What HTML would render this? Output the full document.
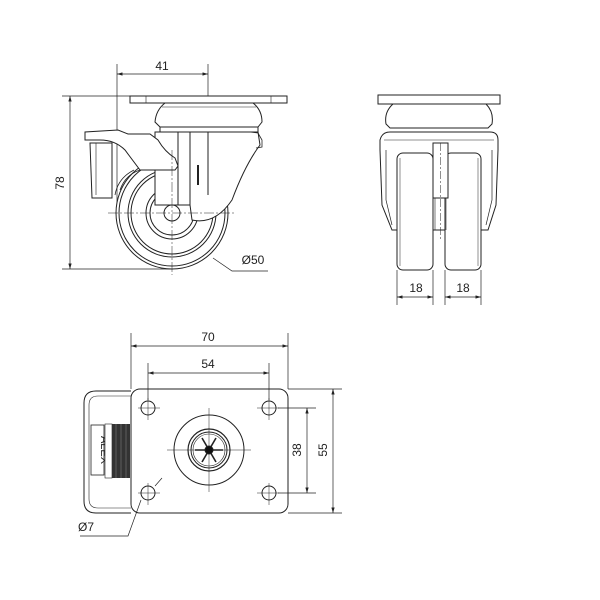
<!DOCTYPE html>
<html><head><style>html,body{margin:0;padding:0;background:#fff}svg{display:block}</style></head>
<body>
<svg width="600" height="600" viewBox="0 0 600 600" xmlns="http://www.w3.org/2000/svg" font-family="Liberation Sans, sans-serif" font-size="12" fill="none" stroke="#222" stroke-width="1">
<defs>
<marker id="a" viewBox="0 0 10 6" refX="10" refY="3" markerWidth="8" markerHeight="5" orient="auto-start-reverse"><path d="M0,0L10,3L0,6z" fill="#222" stroke="none"/></marker>
</defs>
<!-- ===== SIDE VIEW ===== -->
<g stroke-width="0.7">
<line x1="117" y1="64" x2="117" y2="210"/>
<line x1="208" y1="64" x2="208" y2="110"/>
<line x1="117" y1="74" x2="208" y2="74" marker-start="url(#a)" marker-end="url(#a)"/>
<line x1="62" y1="96" x2="130" y2="96"/>
<line x1="62" y1="269" x2="172" y2="269"/>
<line x1="70" y1="96" x2="70" y2="269" marker-start="url(#a)" marker-end="url(#a)"/>
<polyline points="213,258 232,271 268,271"/>
</g>
<text x="162" y="70" fill="#222" stroke="none" text-anchor="middle">41</text>
<text x="0" y="0" fill="#222" stroke="none" text-anchor="middle" transform="translate(64,183) rotate(-90)">78</text>
<text x="253" y="264" fill="#222" stroke="none" text-anchor="middle">Ø50</text>
<!-- plate -->
<rect x="130" y="96" width="157" height="7" fill="#fff"/>
<line x1="146" y1="96" x2="146" y2="103" stroke-width="0.6"/>
<line x1="271" y1="96" x2="271" y2="103" stroke-width="0.6"/>
<path d="M165,103 L253,103 Q262,110 262,122 L258,127 L160,127 L155,122 Q156,110 165,103Z" fill="#fff"/>
<line x1="162" y1="107" x2="256" y2="107" stroke-width="0.6"/>
<rect x="160" y="127" width="98" height="5" fill="#fff"/>
<!-- wheel -->
<circle cx="172" cy="213" r="56" fill="#fff"/>
<circle cx="172" cy="213" r="53"/>
<circle cx="172" cy="213" r="44"/>
<circle cx="172" cy="213" r="41"/>
<circle cx="172" cy="213" r="26"/>
<circle cx="172" cy="213" r="22"/>
<!-- fork -->
<path d="M155,132 L258,132 L260,145 Q245,165 232,200 Q215,225 192,220 L190,205 L155,205Z" fill="#fff"/>
<line x1="178" y1="132" x2="178" y2="205"/>
<line x1="190" y1="132" x2="190" y2="205"/>
<line x1="208" y1="132" x2="208" y2="195"/>
<path d="M250,132 L258,133 L262,140 L262,147 L256,148" stroke-width="0.8"/>
<circle cx="172" cy="213" r="8" fill="#fff"/>
<line x1="198" y1="165" x2="198" y2="185" stroke-width="2"/>
<!-- brake -->
<path d="M85,136 L85,132 L118,130 L128,134 L150,134 L158,140 Q165,152 175,158 L178,166 L175,170 L140,170 L125,150 Q115,140 100,140 L85,140Z" fill="#fff"/>
<path d="M90,143 L112,143 L112,198 L92,198 Z" fill="#fff"/>
<line x1="96" y1="143" x2="96" y2="195" stroke-width="0.6"/>
<path d="M140,170 Q125,175 120,190" stroke-width="0.8"/>
<path d="M134,170 Q118,178 115,195" stroke-width="0.8"/>
<g stroke-width="0.5" stroke-dasharray="10,2,2,2">
<line x1="108" y1="213" x2="236" y2="213"/>
<line x1="172" y1="150" x2="172" y2="275"/>
</g>
<!-- ===== FRONT VIEW ===== -->
<rect x="378" y="95" width="122" height="9" fill="#fff"/>
<path d="M393,104 L486,104 Q494,112 492,124 L488,128 L390,128 L386,124 Q384,112 393,104Z" fill="#fff"/>
<path d="M380,150 L380,140 Q382,132 390,132 L490,132 Q498,132 498,140 L498,150 L496,205 L488,230 L392,230 L382,205 Z" fill="#fff"/>
<path d="M386,150 L386,200 L392,225 M492,150 L492,200 L486,225" stroke-width="0.7"/>
<line x1="384" y1="140" x2="494" y2="140" stroke-width="0.6"/>
<rect x="397" y="153" width="36" height="117" rx="6" fill="#fff"/>
<rect x="445" y="153" width="36" height="117" rx="6" fill="#fff"/>
<line x1="400" y1="158" x2="400" y2="266" stroke-width="0.5"/>
<line x1="478" y1="158" x2="478" y2="266" stroke-width="0.5"/>
<rect x="433" y="143" width="15" height="55" fill="#fff"/>
<line x1="435" y1="198" x2="435" y2="230" stroke-width="0.6"/>
<line x1="446" y1="198" x2="446" y2="230" stroke-width="0.6"/>
<line x1="440.5" y1="143" x2="440.5" y2="240" stroke-width="0.5" stroke-dasharray="8,2,2,2"/>
<g stroke-width="0.7">
<line x1="397" y1="270" x2="397" y2="305"/><line x1="433" y1="270" x2="433" y2="305"/>
<line x1="445" y1="270" x2="445" y2="305"/><line x1="481" y1="270" x2="481" y2="305"/>
<line x1="397" y1="297" x2="433" y2="297" marker-start="url(#a)" marker-end="url(#a)"/>
<line x1="445" y1="297" x2="481" y2="297" marker-start="url(#a)" marker-end="url(#a)"/>
</g>
<text x="416" y="292" fill="#222" stroke="none" text-anchor="middle">18</text>
<text x="463" y="292" fill="#222" stroke="none" text-anchor="middle">18</text>
<!-- ===== TOP VIEW ===== -->
<path d="M131,391 L96,391 Q84,391 84,403 L84,501 Q84,513 96,513 L131,513" fill="#fff"/>
<path d="M131,396 L98,396 Q89,396 89,405 L89,499 Q89,508 98,508 L131,508" stroke-width="0.6"/>
<rect x="91" y="425" width="13" height="50" fill="#fff" stroke-width="0.8"/>
<text fill="#222" stroke="none" font-size="11" text-anchor="middle" transform="translate(101,450) rotate(90)">ALEX</text>
<rect x="105" y="424" width="7" height="54" fill="#fff" stroke-width="0.6"/>
<rect x="112" y="424" width="18" height="54" fill="#333" stroke="none"/>
<g stroke="#888" stroke-width="0.5"><line x1="116" y1="424" x2="116" y2="478"/><line x1="121" y1="424" x2="121" y2="478"/><line x1="126" y1="424" x2="126" y2="478"/></g>
<rect x="131" y="389" width="157" height="124" rx="9" fill="#fff"/>
<g fill="#fff"><circle cx="148" cy="408" r="7"/><circle cx="269" cy="408" r="7"/><circle cx="148" cy="493" r="7"/><circle cx="269" cy="493" r="7"/></g>
<g stroke-width="0.5">
<line x1="138" y1="408" x2="160" y2="408"/><line x1="148" y1="398" x2="148" y2="420"/>
<line x1="257" y1="408" x2="279" y2="408"/><line x1="269" y1="398" x2="269" y2="420"/>
<line x1="138" y1="493" x2="160" y2="493"/><line x1="148" y1="483" x2="148" y2="505"/>
<line x1="257" y1="493" x2="279" y2="493"/><line x1="269" y1="483" x2="269" y2="505"/>
<line x1="167" y1="450" x2="251" y2="450"/><line x1="209" y1="408" x2="209" y2="492"/>
</g>
<circle cx="209" cy="450" r="35"/>
<circle cx="209" cy="450" r="21" stroke-width="1.2"/>
<circle cx="209" cy="450" r="18"/>
<circle cx="209" cy="450" r="16" stroke-width="0.6"/>
<g stroke-width="1.6"><line x1="195" y1="450" x2="223" y2="450"/><line x1="202" y1="438" x2="216" y2="462"/><line x1="216" y1="438" x2="202" y2="462"/></g>
<circle cx="209" cy="450" r="4" fill="#111"/>
<g stroke-width="0.7">
<line x1="131" y1="333" x2="131" y2="389"/><line x1="288" y1="333" x2="288" y2="389"/>
<line x1="131" y1="346" x2="288" y2="346" marker-start="url(#a)" marker-end="url(#a)"/>
<line x1="148" y1="363" x2="148" y2="400"/><line x1="269" y1="363" x2="269" y2="400"/>
<line x1="148" y1="373" x2="269" y2="373" marker-start="url(#a)" marker-end="url(#a)"/>
<line x1="278" y1="408" x2="316" y2="408"/><line x1="278" y1="493" x2="316" y2="493"/>
<line x1="307" y1="408" x2="307" y2="493" marker-start="url(#a)" marker-end="url(#a)"/>
<line x1="288" y1="389" x2="342" y2="389"/><line x1="288" y1="513" x2="342" y2="513"/>
<line x1="333" y1="389" x2="333" y2="513" marker-start="url(#a)" marker-end="url(#a)"/>
<polyline points="162,478 155,486"/>
<polyline points="141,500 128,536 80,536"/>
</g>
<text x="208" y="341" fill="#222" stroke="none" text-anchor="middle">70</text>
<text x="208" y="368" fill="#222" stroke="none" text-anchor="middle">54</text>
<text fill="#222" stroke="none" text-anchor="middle" transform="translate(301,450) rotate(-90)">38</text>
<text fill="#222" stroke="none" text-anchor="middle" transform="translate(327,450) rotate(-90)">55</text>
<text x="86" y="531" fill="#222" stroke="none" text-anchor="middle">Ø7</text>
</svg>
</body></html>
